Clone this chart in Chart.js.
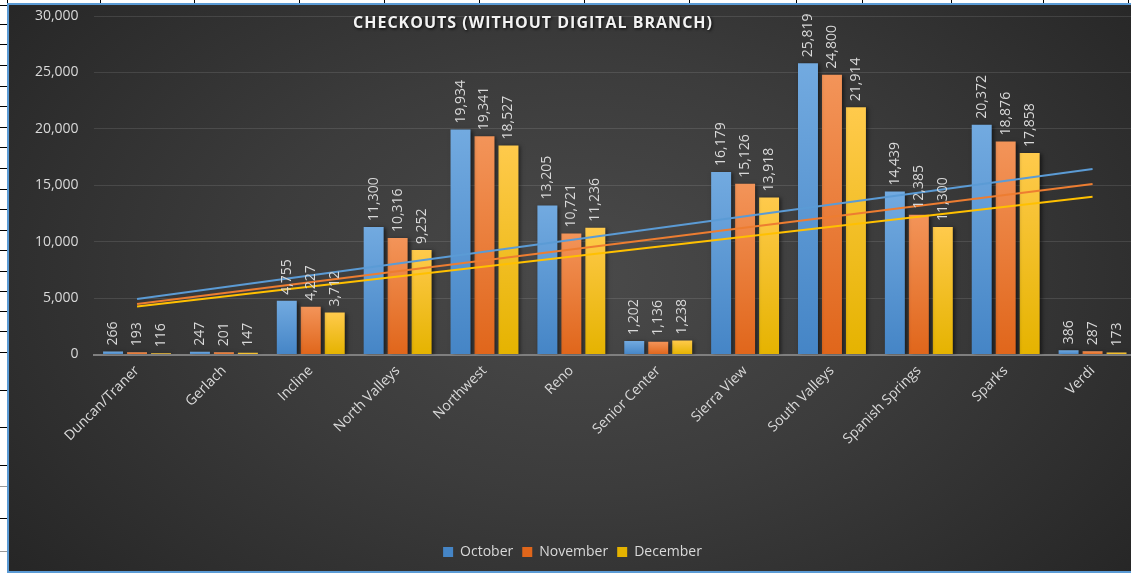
<!DOCTYPE html>
<html>
<head>
<meta charset="utf-8">
<script src="https://cdn.jsdelivr.net/npm/chart.js@4.4.0/dist/chart.umd.min.js"></script>
<style>
html,body{margin:0;padding:0;background:#fff;overflow:hidden;width:1131px;height:573px;}
.frame{position:absolute;left:7px;top:3px;width:1140px;height:566px;border:2px solid #5b9bd5;
  background:radial-gradient(ellipse 720px 470px at 50% 48%, #4a4a4a 0%, #3c3c3c 45%, #262626 100%);}
#wrap{position:absolute;left:9px;top:5px;width:1127px;height:566px;}
.title{position:absolute;left:313px;top:11px;width:440px;text-align:center;font-family:"Open Sans",sans-serif;
  font-weight:bold;font-size:16px;letter-spacing:1px;color:#f2f2f2;text-shadow:1px 1px 3px rgba(0,0,0,0.85);white-space:nowrap;}
.vl{position:absolute;top:0;width:1px;height:4px;background:#000;}
.hl{position:absolute;left:0;width:7px;height:1px;background:#000;}
</style>
</head>
<body>
<div class="vl" style="left:7px"></div><div class="vl" style="left:100px"></div><div class="vl" style="left:194px"></div>
<div class="vl" style="left:299px"></div><div class="vl" style="left:384px"></div><div class="vl" style="left:479px"></div>
<div class="vl" style="left:584px"></div><div class="vl" style="left:689px"></div><div class="vl" style="left:796px"></div>
<div class="vl" style="left:862px"></div><div class="vl" style="left:951px"></div><div class="vl" style="left:1043px"></div>
<div class="vl" style="left:1128px"></div>
<div class="hl" style="top:5px"></div><div class="hl" style="top:24px"></div><div class="hl" style="top:44px"></div>
<div class="hl" style="top:65px"></div><div class="hl" style="top:86px"></div><div class="hl" style="top:106px"></div>
<div class="hl" style="top:127px"></div><div class="hl" style="top:147px"></div><div class="hl" style="top:168px"></div>
<div class="hl" style="top:189px"></div><div class="hl" style="top:209px"></div><div class="hl" style="top:230px"></div>
<div class="hl" style="top:250px"></div><div class="hl" style="top:271px"></div><div class="hl" style="top:291px"></div>
<div class="hl" style="top:311px"></div><div class="hl" style="top:331px"></div><div class="hl" style="top:352px"></div>
<div class="hl" style="top:390px"></div><div class="hl" style="top:427px"></div><div class="hl" style="top:465px"></div>
<div class="hl" style="top:486px;background:#999"></div><div class="hl" style="top:518px"></div>
<div class="hl" style="top:551px;background:#999"></div>
<div class="frame"></div>
<div id="wrap"><canvas id="c"></canvas></div>
<div class="title">CHECKOUTS (WITHOUT DIGITAL BRANCH)</div>
<script>
const categories = ["Duncan/Traner","Gerlach","Incline","North Valleys","Northwest","Reno","Senior Center","Sierra View","South Valleys","Spanish Springs","Sparks","Verdi"];
const october  = [266,247,4755,11300,19934,13205,1202,16179,25819,14439,20372,386];
const november = [193,201,4227,10316,19341,10721,1136,15126,24800,12385,18876,287];
const december = [116,147,3712,9252,18527,11236,1238,13918,21914,11300,17858,173];
// linear trendline end values (first and last category)
const trendOctober  = [4915,16436];
const trendNovember = [4485,15116];
const trendDecember = [4258,13974];
const yTickValues = [0,5000,10000,15000,20000,25000,30000];

Chart.defaults.font.family = '"Open Sans", sans-serif';
Chart.defaults.font.size = 14;
Chart.defaults.color = '#d9d9d9';

function barGrad(top, bottom, legendColor){
  return (ctx) => {
    if (ctx.type !== 'data') return legendColor;
    const chart = ctx.chart, y = chart.scales.y;
    if (!y || !chart.chartArea) return legendColor;
    const y0 = y.getPixelForValue(ctx.raw), y1 = y.getPixelForValue(0);
    if (!isFinite(y0) || !isFinite(y1) || y0 === y1) return legendColor;
    const g = chart.ctx.createLinearGradient(0, y0, 0, y1);
    g.addColorStop(0, top); g.addColorStop(1, bottom);
    return g;
  };
}
function trendData(t){
  return categories.map((_, i) => i === 0 ? t[0] : (i === categories.length - 1 ? t[1] : null));
}

const barShadow = {
  id: 'barShadow',
  beforeDatasetDraw(chart, args){
    if (chart.data.datasets[args.index].type === 'line') return;
    const c = chart.ctx; c.save();
    c.shadowColor = 'rgba(0,0,0,0.55)'; c.shadowBlur = 4; c.shadowOffsetX = 2; c.shadowOffsetY = 1;
  },
  afterDatasetDraw(chart, args){
    if (chart.data.datasets[args.index].type === 'line') return;
    chart.ctx.restore();
  }
};
const valueLabels = {
  id: 'valueLabels',
  afterDatasetsDraw(chart){
    const c = chart.ctx;
    chart.data.datasets.forEach((ds, i) => {
      if (ds.type === 'line') return;
      chart.getDatasetMeta(i).data.forEach((el, j) => {
        c.save();
        c.translate(el.x, el.y - 6);
        c.rotate(-Math.PI / 2);
        c.font = '14px "Open Sans", sans-serif';
        c.fillStyle = '#d9d9d9';
        c.textAlign = 'left';
        c.textBaseline = 'middle';
        c.fillText(ds.data[j].toLocaleString('en-US'), 0, 0);
        c.restore();
      });
    });
  }
};

new Chart(document.getElementById('c'), {
  type: 'bar',
  data: {
    labels: categories,
    datasets: [
      {label:'October', data: october, order: 1, backgroundColor: barGrad('#72aae0','#4585c6','#5b9bd5'), borderWidth:0,
       categoryPercentage: 0.828, barPercentage: 0.833},
      {label:'November', data: november, order: 1, backgroundColor: barGrad('#f39459','#e0661b','#ed7d31'), borderWidth:0,
       categoryPercentage: 0.828, barPercentage: 0.833},
      {label:'December', data: december, order: 1, backgroundColor: barGrad('#ffca4c','#e5b300','#ffc000'), borderWidth:0,
       categoryPercentage: 0.828, barPercentage: 0.833},
      {type:'line', label:'Trend October', data: trendData(trendOctober), order: 0, borderColor:'#5b9bd5', borderWidth:2, pointRadius:0, spanGaps:true, fill:false},
      {type:'line', label:'Trend November', data: trendData(trendNovember), order: 0, borderColor:'#ed7d31', borderWidth:2, pointRadius:0, spanGaps:true, fill:false},
      {type:'line', label:'Trend December', data: trendData(trendDecember), order: 0, borderColor:'#ffc000', borderWidth:2, pointRadius:0, spanGaps:true, fill:false}
    ]
  },
  options: {
    responsive: true,
    maintainAspectRatio: false,
    animation: false,
    layout: {padding: {top: 11, bottom: 2, left: 0, right: 0}},
    plugins: {
      tooltip: {enabled: false},
      title: {display: false},
      legend: {
        position: 'bottom',
        labels: {
          filter: (item) => item.datasetIndex < 3,
          boxWidth: 10, boxHeight: 10, padding: 9, color: '#d9d9d9',
          font: {size: 14}
        }
      }
    },
    scales: {
      x: {
        grid: {display: false, drawTicks: false},
        border: {display: true, color: '#7f7f7f', width: 2},
        ticks: {minRotation: 45, maxRotation: 45, autoSkip: false, padding: 8, color: '#d9d9d9', font: {size: 14}},
        afterFit(scale){ scale.height = 181.5; scale.paddingLeft = 0; scale.paddingRight = 0; }
      },
      y: {
        min: 0, max: 30000,
        afterBuildTicks(scale){ scale.ticks = yTickValues.map(v => ({value: v})); },
        grid: {color: 'rgba(255,255,255,0.11)', lineWidth: 1, drawTicks: false},
        border: {display: false},
        ticks: {padding: 15, color: '#d9d9d9', font: {size: 14}, callback: (v) => v.toLocaleString('en-US')},
        afterFit(scale){ scale.width = 84.6; scale.paddingTop = 0; scale.paddingBottom = 0; }
      }
    }
  },
  plugins: [barShadow, valueLabels]
});
</script>
</body>
</html>
